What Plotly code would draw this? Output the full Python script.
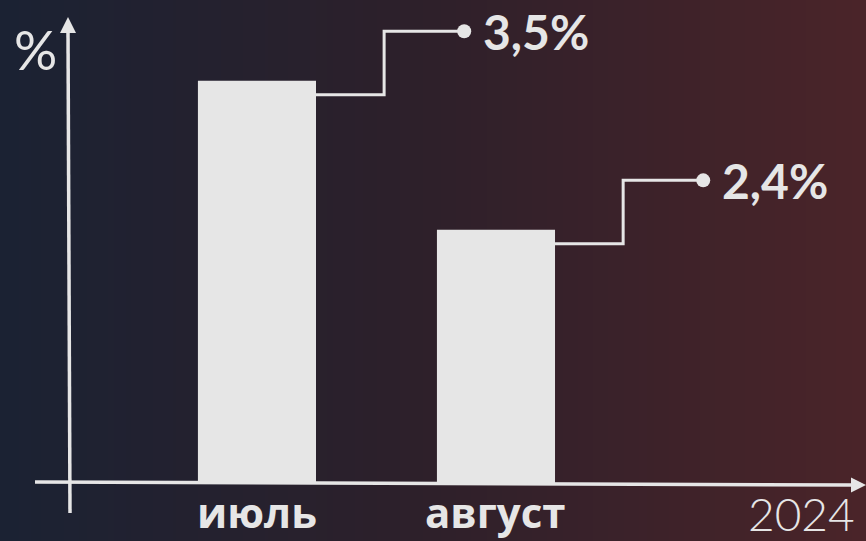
import plotly.graph_objects as go
import numpy as np

# ---- data ----
categories = ["июль", "август"]
values = [3.5, 2.4]
value_labels = ["3,5%", "2,4%"]
year_label = "2024"
unit_label = "%"

# ---- style ----
W, H = 866, 541
BAR_COLOR = "#e6e6e6"
LINE_COLOR = "#e6e6e6"
BAR_WIDTH = 0.494
BAR_BASE = 0.53          # value at which the drawn x-axis sits
X_RANGE = [-1.075, 2.548]
Y_RANGE = [0.103, 4.096]

fig = go.Figure()

# background gradient (decorative)
ncols = 60
xe = np.linspace(X_RANGE[0], X_RANGE[1], ncols + 1)
zc = np.linspace(0, 1, ncols)
fig.add_trace(go.Heatmap(
    x=xe, y=[Y_RANGE[0], Y_RANGE[1]], z=[zc],
    colorscale=[[0, "#1b2233"], [0.5, "#2e202a"], [1, "#4a2429"]],
    showscale=False, hoverinfo="skip", zsmooth="best",
))

xpos = list(range(len(categories)))
fig.add_trace(go.Bar(
    x=xpos, y=[v - BAR_BASE for v in values], base=BAR_BASE,
    width=BAR_WIDTH, marker=dict(color=BAR_COLOR, line=dict(width=0)),
    hoverinfo="skip",
))

# callouts
for xi, v, lab in zip(xpos, values, value_labels):
    x0 = xi + BAR_WIDTH / 2
    xm = x0 + 0.285
    xd = x0 + 0.62
    ylo = v - 0.103
    yhi = v + 0.365
    fig.add_trace(go.Scatter(
        x=[x0, xm, xm, xd], y=[ylo, ylo, yhi, yhi], mode="lines",
        line=dict(color=LINE_COLOR, width=3), hoverinfo="skip",
        cliponaxis=False,
    ))
    fig.add_trace(go.Scatter(
        x=[xd], y=[yhi], mode="markers",
        marker=dict(color=LINE_COLOR, size=14), hoverinfo="skip",
    ))
    fig.add_annotation(
        x=xd + 0.07, y=yhi, text=lab, showarrow=False,
        xanchor="left", yanchor="middle",
        font=dict(family="Lato", size=48, color=BAR_COLOR, weight="bold"),
    )

# category labels
for xi, c in zip(xpos, categories):
    fig.add_annotation(
        x=xi, y=0, yref="paper", text=c, showarrow=False,
        xanchor="center", yanchor="bottom", yshift=-1,
        font=dict(family="Open Sans", size=42, color=BAR_COLOR, weight="bold"),
    )

fig.add_annotation(
    x=857 / W, y=0, xref="paper", yref="paper", text=year_label,
    showarrow=False, xanchor="right", yanchor="bottom", yshift=-2,
    font=dict(family="Lato", size=46, color=BAR_COLOR, weight=300),
)
fig.add_annotation(
    x=35 / W, y=1 - 49 / H, xref="paper", yref="paper", text=unit_label,
    showarrow=False, xanchor="center", yanchor="middle",
    font=dict(family="Lato", size=54, color=BAR_COLOR, weight="normal"),
)

def px(x, y):
    return x / W, 1 - y / H

shapes = []
# x axis
a, b = px(35, 482)
c, d = px(856, 485)
shapes.append(dict(type="line", xref="paper", yref="paper", x0=a, y0=b, x1=c, y1=d,
                   line=dict(color=LINE_COLOR, width=3.5)))
t = [px(866, 485), px(851, 477.5), px(851, 492.5)]
shapes.append(dict(type="path", xref="paper", yref="paper",
                   path="M {} {} L {} {} L {} {} Z".format(t[0][0], t[0][1], t[1][0], t[1][1], t[2][0], t[2][1]),
                   fillcolor=LINE_COLOR, line=dict(width=0)))
# y axis
a, b = px(68, 30)
c, d = px(70, 513)
shapes.append(dict(type="line", xref="paper", yref="paper", x0=a, y0=b, x1=c, y1=d,
                   line=dict(color=LINE_COLOR, width=3.5)))
t = [px(68, 17), px(60, 33), px(76, 33)]
shapes.append(dict(type="path", xref="paper", yref="paper",
                   path="M {} {} L {} {} L {} {} Z".format(t[0][0], t[0][1], t[1][0], t[1][1], t[2][0], t[2][1]),
                   fillcolor=LINE_COLOR, line=dict(width=0)))

fig.update_layout(
    width=W, height=H, margin=dict(l=0, r=0, t=0, b=0),
    paper_bgcolor="#2e202a", plot_bgcolor="rgba(0,0,0,0)",
    showlegend=False, shapes=shapes,
    xaxis=dict(range=X_RANGE, visible=False, fixedrange=True),
    yaxis=dict(range=Y_RANGE, visible=False, fixedrange=True),
)

fig.write_html(
    "out.html",
    config={"displayModeBar": False},
    post_script="document.body.style.margin='0';document.body.style.overflow='hidden';",
)
